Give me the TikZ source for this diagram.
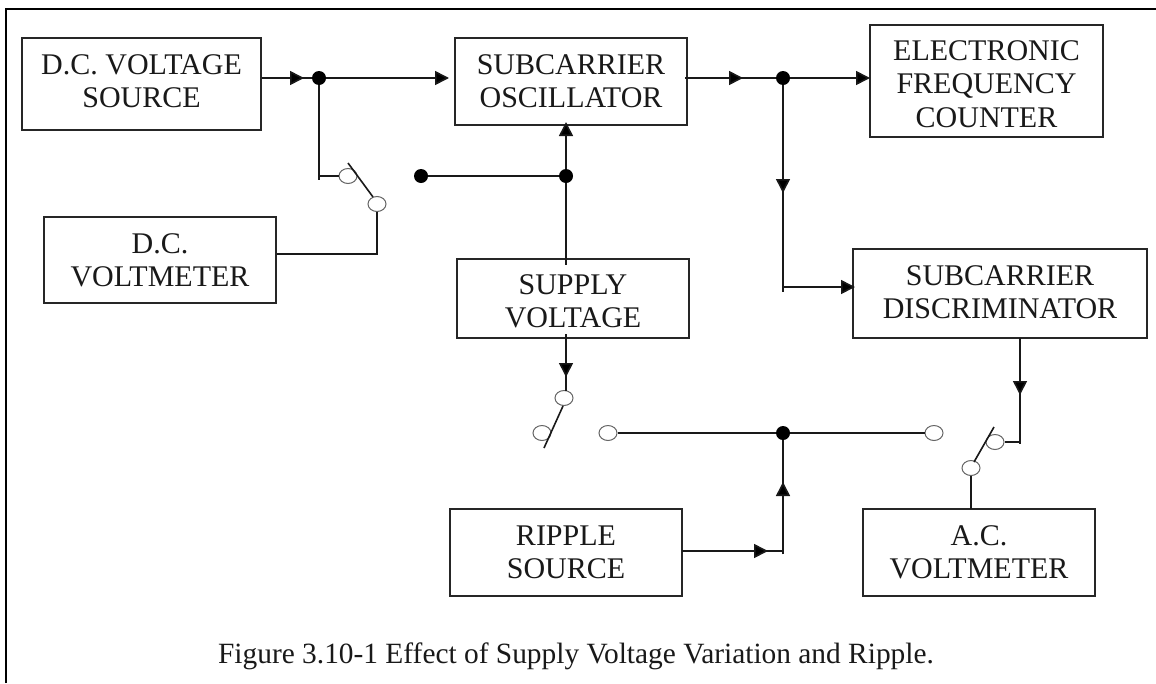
\documentclass[tikz,border=0pt]{standalone}
\usepackage{fontspec}
\setmainfont{Liberation Serif}
\usetikzlibrary{arrows.meta,shapes.geometric}
\tikzset{
  boxfont/.style={text=black!90,align=center,inner sep=0pt,font=\fontsize{30}{33.3}\selectfont},
  blockbox/.style={draw=black!85,line width=1.3pt,fill=white,boxfont},
  conn/.style={line width=1.6pt,draw=black!90},
  arr/.style={conn,-{Triangle[length=14pt,width=14pt,fill=black]}},
  junction/.style={circle,fill=black,draw=none,minimum size=14pt,inner sep=0pt},
  terminal/.style={ellipse,draw=black!60,line width=1pt,fill=white,minimum width=18pt,minimum height=15pt,inner sep=0pt},
  lever/.style={line width=1.6pt,draw=black!90}
}
\begin{document}
\begin{tikzpicture}[x=1pt,y=-1pt]
\useasboundingbox (0,0) rectangle (1156,683);
\fill[white] (0,0) rectangle (1156,683);
% frame
\coordinate (fa) at (6,683); \coordinate (fb) at (6,9); \coordinate (fc) at (1156,9);
\draw[line width=2pt,black] (fa) -- (fb) -- (fc);
% blocks
\node[blockbox,minimum width=239pt,minimum height=92pt,label={[boxfont,yshift=3pt]center:{D.C. VOLTAGE\\SOURCE}}] (dcs) at (141.5,84) {};
\node[blockbox,minimum width=232pt,minimum height=86pt] (dcv) at (160,260) {D.C.\\VOLTMETER};
\node[blockbox,minimum width=232pt,minimum height=87pt] (osc) at (571,81.5) {SUBCARRIER\\OSCILLATOR};
\node[blockbox,minimum width=233pt,minimum height=112pt,label={[boxfont,yshift=-3pt]center:{ELECTRONIC\\FREQUENCY\\COUNTER}}] (efc) at (986.5,81) {};
\node[blockbox,minimum width=294pt,minimum height=89pt,label={[boxfont,yshift=1.5pt]center:{SUBCARRIER\\DISCRIMINATOR}}] (dis) at (1000,293.5) {};
\node[blockbox,minimum width=232pt,minimum height=79pt,label={[boxfont,yshift=-3pt]center:{SUPPLY\\VOLTAGE}}] (sup) at (573,298.5) {};
\node[blockbox,minimum width=232pt,minimum height=87pt] (rip) at (566,552.5) {RIPPLE\\SOURCE};
\node[blockbox,minimum width=232pt,minimum height=87pt] (acv) at (979,552.5) {A.C.\\VOLTMETER};
% junctions
\node[junction] (j1) at (319,78) {};
\node[junction] (j2) at (783,78) {};
\node[junction] (j3) at (566,176) {};
\node[junction] (j4) at (421,176) {};
\node[junction] (j5) at (783,433) {};
% terminals
\node[terminal] (t1) at (348,176) {};
\node[terminal] (t2) at (377,204) {};
\node[terminal] (t3) at (564,398) {};
\node[terminal] (t4) at (542,433) {};
\node[terminal] (t5) at (608,433) {};
\node[terminal] (t6) at (934,433) {};
\node[terminal] (t7) at (995,442) {};
\node[terminal] (t8) at (971,468) {};
% levers
\coordinate (l1a) at (348,163); \coordinate (l1b) at (373,197);
\coordinate (l2a) at (563,406); \coordinate (l2b) at (544,448);
\coordinate (l3a) at (974,462); \coordinate (l3b) at (994,427);
\draw[lever] (l1a) -- (l1b);
\draw[lever] (l2a) -- (l2b);
\draw[lever] (l3a) -- (l3b);
% D.C. source
\coordinate (a1) at (304,78);
\draw[conn] (dcs.east |- a1) -- (j1);
\draw[arr] (dcs.east |- a1) -- (a1);
\coordinate (a2) at (449,78);
\draw[arr] (j1) -- (a2);
\coordinate (b1) at (319,180);
\draw[conn] (j1) -- (b1);
\coordinate (b2) at (319,176);
\draw[conn] (b2) -- (t1);
\coordinate (b3) at (377,254);
\draw[conn] (t2) -- (b3) -- (dcv.east |- b3);
% supply
\draw[conn] (j4) -- (j3);
\coordinate (a3) at (566,122);
\draw[arr] (j3) -- (a3);
\coordinate (s1) at (566,265);
\draw[conn] (j3) -- (s1);
\coordinate (s2) at (566,334);
\coordinate (s3) at (566,391);
\coordinate (a4) at (566,377);
\draw[conn] (s2) -- (s3);
\draw[arr] (s2) -- (a4);
% oscillator output
\coordinate (o1) at (685,78);
\coordinate (a5) at (743,78);
\draw[conn] (o1) -- (j2);
\draw[arr] (o1) -- (a5);
\coordinate (a6) at (870,78);
\draw[arr] (j2) -- (a6);
\coordinate (a7) at (783,193);
\coordinate (d1) at (783,292);
\draw[conn] (j2) -- (d1);
\draw[arr] (j2) -- (a7);
\coordinate (d2) at (783,287);
\coordinate (a8) at (855,287);
\draw[arr] (d2) -- (a8);
% discriminator output
\coordinate (e1) at (1020,338);
\coordinate (a9) at (1020,395);
\coordinate (e2) at (1020,444);
\draw[conn] (e1) -- (e2);
\draw[arr] (e1) -- (a9);
\coordinate (e3) at (1020,442);
\draw[conn] (e3) -- (t7);
\coordinate (e4) at (971,509);
\draw[conn] (t8) -- (e4);
% bus
\draw[conn] (t5) -- (j5);
\draw[conn] (j5) -- (t6);
% ripple
\coordinate (r1) at (682,551);
\coordinate (a10) at (768,551);
\coordinate (r2) at (783,551);
\coordinate (r3) at (783,554);
\draw[conn] (r1) -- (r2);
\draw[arr] (r1) -- (a10);
\coordinate (a11) at (783,482);
\draw[conn] (r3) -- (j5);
\draw[arr] (r3) -- (a11);
% caption
\node[anchor=base,inner sep=0pt,text=black!90,font=\fontsize{29.4}{32}\selectfont] (cap) at (576,663) {Figure 3.10-1 Effect of Supply Voltage Variation and Ripple.};
\end{tikzpicture}
\end{document}
